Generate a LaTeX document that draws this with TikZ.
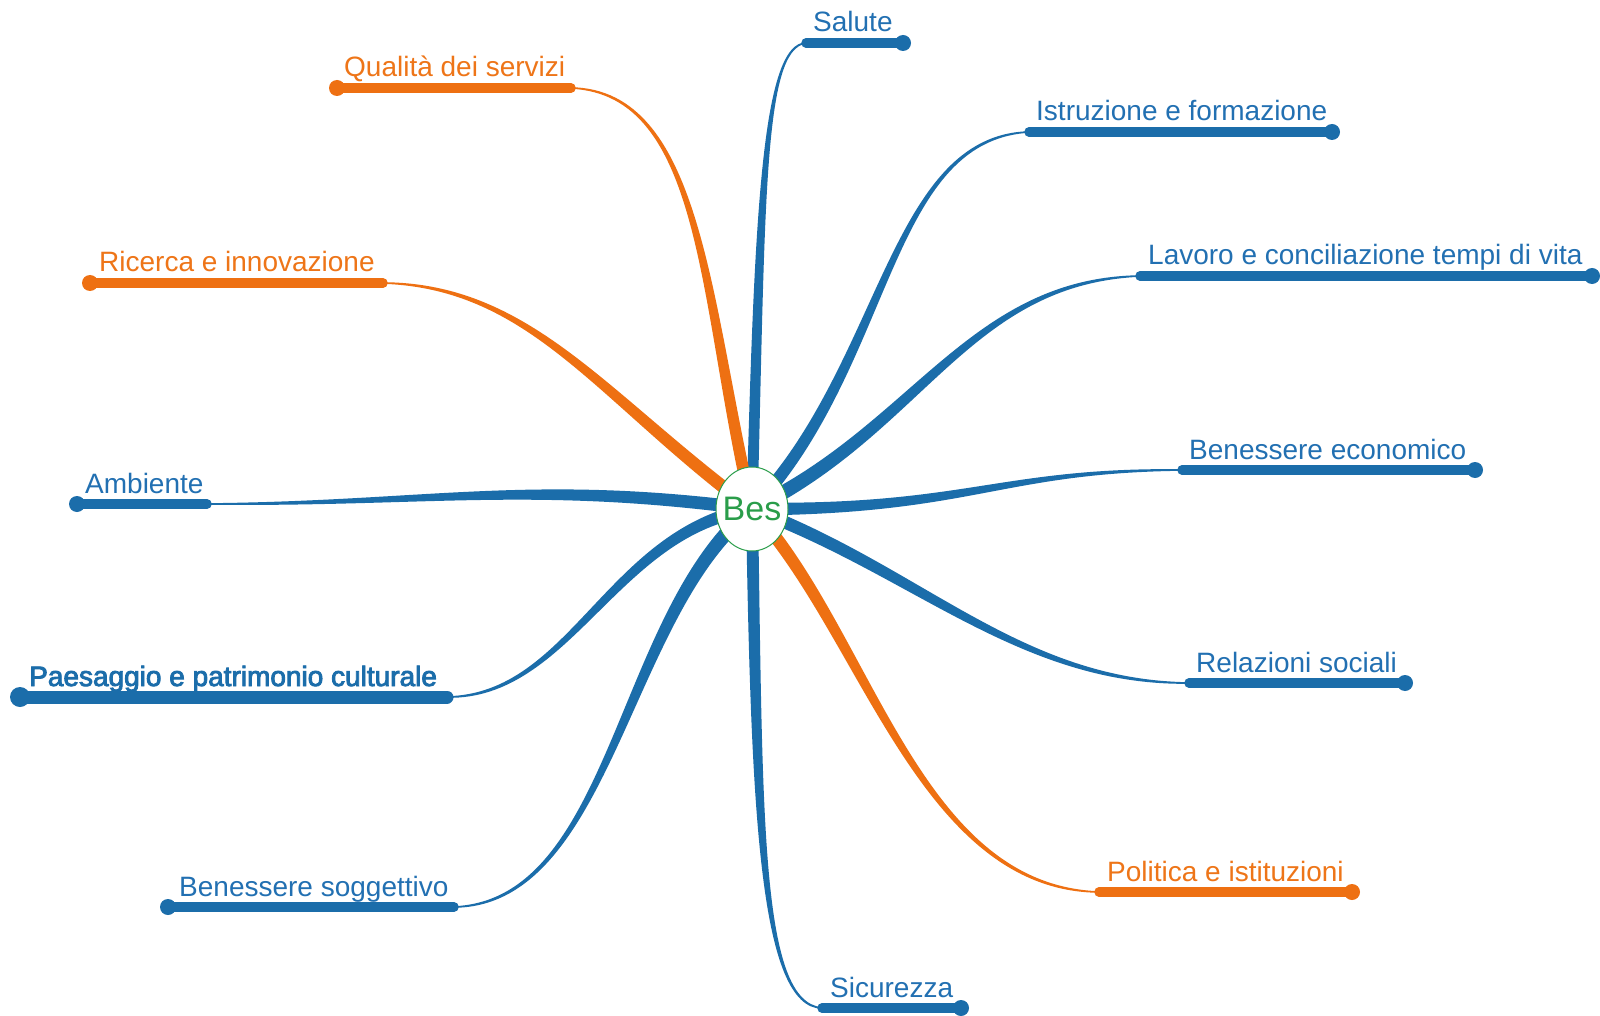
\documentclass[tikz,border=0pt]{standalone}
\usepackage{fontspec}
\setmainfont{Liberation Sans}
\newfontfamily\heavyfont[FakeBold=3]{Liberation Sans}
\usetikzlibrary{calc,shapes.geometric}
\definecolor{bblue}{HTML}{1B6DAA}
\definecolor{borange}{HTML}{EE7012}
\definecolor{bgreen}{HTML}{2A9D4A}
\definecolor{tblue}{HTML}{2270B2}
\definecolor{torange}{HTML}{EE7518}
% #1 colour, #2 start name, #3 C1, #4 C2, #5 end name, #6 half width
\newcommand\branch[6]{%
  \fill[#1] ($(#2)!#6!90:#3$) .. controls ($#3!#6!90:#4$) and ($#4!0.45*#6!90:(#5)$) .. ($(#5)!0.8pt!-90:#4$)
     -- ($(#5)!0.8pt!90:#4$) .. controls ($#4!0.45*#6!-90:(#5)$) and ($#3!#6!-90:#4$) .. ($(#2)!#6!-90:#3$) -- cycle;}
\begin{document}
\begin{tikzpicture}[x=1pt,y=-1pt,
  bar/.style={line width=9.5pt, line cap=round},
  lbl/.style={font=\fontsize{28}{32}\selectfont, inner sep=0pt, anchor=base west},
  bluelbl/.style={lbl, text=tblue},
  orlbl/.style={lbl, text=torange}]
\useasboundingbox[fill=white] (0,0) rectangle (1600,1016);
\coordinate (o) at (752,509);
% bar end coordinates
\coordinate (s1) at (806,43);   \coordinate (e1) at (903,43);
\coordinate (s2) at (1029,132); \coordinate (e2) at (1332,132);
\coordinate (s3) at (1140,276); \coordinate (e3) at (1592,276);
\coordinate (s4) at (1182,470); \coordinate (e4) at (1475,470);
\coordinate (s5) at (1189,683); \coordinate (e5) at (1405,683);
\coordinate (s6) at (1099,892); \coordinate (e6) at (1352,892);
\coordinate (s7) at (822,1008); \coordinate (e7) at (961,1008);
\coordinate (s8) at (454,907);  \coordinate (e8) at (168,907);
\coordinate (s9) at (447,697);  \coordinate (e9) at (20,697);
\coordinate (s10) at (207,504); \coordinate (e10) at (77,504);
\coordinate (s11) at (383,283); \coordinate (e11) at (90,283);
\coordinate (s12) at (571,88);  \coordinate (e12) at (337,88);
% tapered connectors
\branch{bblue}{o}{(760,204)}{(763,46)}{s1}{5.5pt}
\branch{bblue}{o}{(888,367)}{(888,138)}{s2}{6.5pt}
\branch{bblue}{o}{(918,429)}{(969,281)}{s3}{7.5pt}
\branch{bblue}{o}{(969,510)}{(1000,470)}{s4}{6.5pt}
\branch{bblue}{o}{(918,571)}{(1020,683)}{s5}{6.5pt}
\branch{borange}{o}{(867,633)}{(918,888)}{s6}{6.5pt}
\branch{bblue}{o}{(757,816)}{(760,1005)}{s7}{6pt}
\branch{bblue}{o}{(622,612)}{(612,903)}{s8}{7.5pt}
\branch{bblue}{o}{(612,531)}{(571,697)}{s9}{7pt}
\branch{bblue}{o}{(531,480)}{(429,504)}{s10}{6.5pt}
\branch{borange}{o}{(602,398)}{(531,286)}{s11}{6.5pt}
\branch{borange}{o}{(704,306)}{(704,92)}{s12}{6pt}
% bars with end dots
\foreach \i/\c in {1/bblue,2/bblue,3/bblue,4/bblue,5/bblue,6/borange,7/bblue,8/bblue,10/bblue,11/borange,12/borange}{
  \draw[bar,\c] (s\i) -- (e\i);
  \fill[\c] (e\i) circle (8);
}
\draw[bblue, line width=13pt, line cap=round] (s9) -- (e9);
\fill[bblue] (e9) circle (10);
% labels
\node[bluelbl] (t1) at (813,32) {Salute};
\node[bluelbl] (t2) at (1036,121) {Istruzione e formazione};
\node[bluelbl] (t3) at (1148,265) {Lavoro e conciliazione tempi di vita};
\node[bluelbl] (t4) at (1189,459) {Benessere economico};
\node[bluelbl] (t5) at (1196,672) {Relazioni sociali};
\node[orlbl] (t6) at (1107,881) {Politica e istituzioni};
\node[bluelbl] (t7) at (830,997) {Sicurezza};
\node[bluelbl] (t8) at (179,896) {Benessere soggettivo};
\node[lbl, text=bblue, font=\fontsize{28}{32}\heavyfont] (t9) at (29,686) {Paesaggio e patrimonio culturale};
\node[bluelbl] (t10) at (85,493) {Ambiente};
\node[orlbl] (t11) at (99,272) {Ricerca e innovazione};
\node[orlbl] (t12) at (344,77) {Qualità dei servizi};
% centre
\node[ellipse, draw=bgreen, line width=1pt, fill=white, minimum width=72, minimum height=84,
      inner xsep=-5pt, inner ysep=0pt,
      text=bgreen, font=\fontsize{34}{38}\selectfont] (bes) at (o) {Bes};
\end{tikzpicture}
\end{document}
